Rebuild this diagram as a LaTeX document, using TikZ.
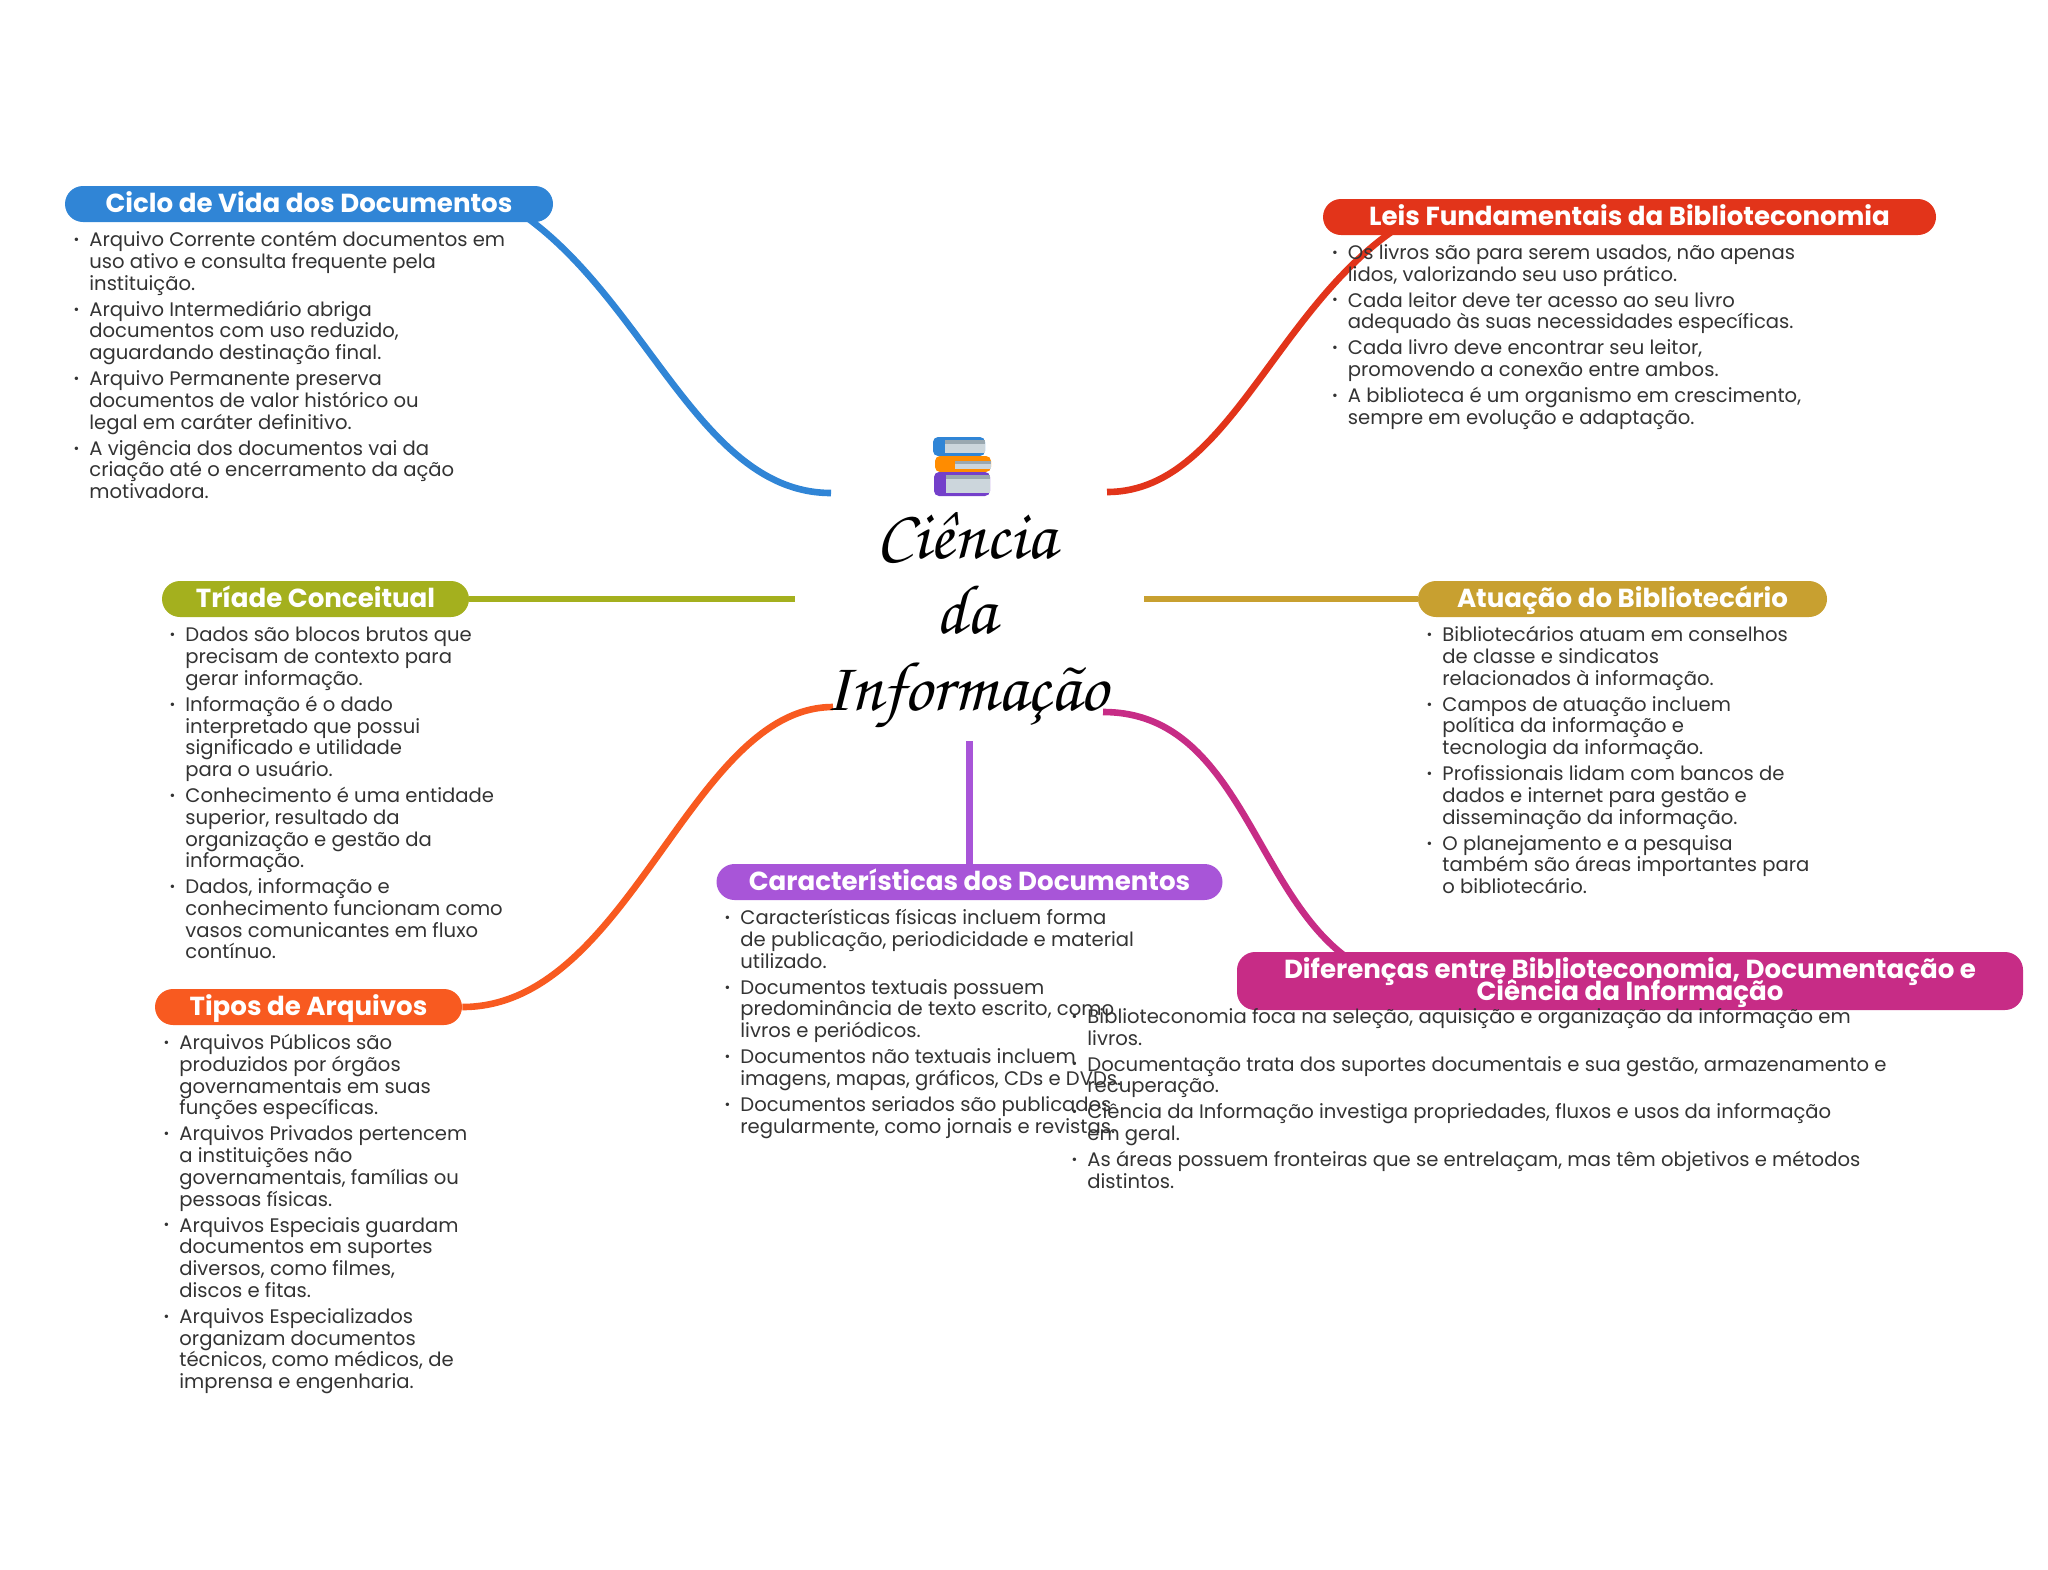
\documentclass[tikz,border=0pt]{standalone}
\usepackage{fontspec}
\usepackage{xcolor}
\setmainfont{Poppins}
\newfontfamily\titlefont{TeX Gyre Chorus}
\usetikzlibrary{backgrounds}
\definecolor{cblue}{HTML}{3085D6}
\definecolor{cred}{HTML}{E2341A}
\definecolor{colive}{HTML}{A4B01E}
\definecolor{cgold}{HTML}{C8A030}
\definecolor{corange}{HTML}{F85A20}
\definecolor{cpurple}{HTML}{A855D8}
\definecolor{cmagenta}{HTML}{C72C86}
\definecolor{cbody}{HTML}{333333}
\definecolor{cpage}{HTML}{CCD6DC}
\definecolor{cstrip}{HTML}{9AA8B0}
\newcommand{\itm}{\makebox[0pt][r]{\raisebox{1.1pt}{\fontsize{7}{7}\selectfont •}\hspace{5pt}}}
\tikzset{
  headbox/.style={rounded corners=9pt,inner sep=0pt,minimum height=18pt,text=white,align=center,
    font=\fontsize{13.05}{11}\selectfont\bfseries},
  oneline/.style={text height=10.5pt,text depth=1.8pt},
  bodybox/.style={anchor=north west,inner sep=0pt,align=left,text=cbody,
    font=\fontsize{9.8}{10.85}\selectfont},
  branch/.style={line width=3.3pt},
  titleline/.style={inner sep=0pt,anchor=base,font=\fontsize{35}{38}\selectfont\titlefont}
}
\begin{document}
\begin{tikzpicture}[x=0.5pt,y=-0.5pt]
  \useasboundingbox (0,0) rectangle (2048,1569);
  % Branch headings
  \node[headbox,oneline,fill=cblue,minimum width=244pt] (ciclo) at (309,204) {Ciclo de Vida dos Documentos};
  \node[headbox,oneline,fill=cred,minimum width=306.5pt] (leis) at (1629.5,217) {Leis Fundamentais da Biblioteconomia};
  \node[headbox,oneline,fill=colive,minimum width=153.5pt] (triade) at (315.5,599) {Tríade Conceitual};
  \node[headbox,oneline,fill=cgold,minimum width=204.5pt] (atuacao) at (1622.5,599) {Atuação do Bibliotecário};
  \node[headbox,oneline,fill=corange,minimum width=153.5pt] (tipos) at (308.5,1007) {Tipos de Arquivos};
  \node[headbox,oneline,fill=cpurple,minimum width=253pt] (carac) at (969.5,882) {Características dos Documentos};
  \node[headbox,fill=cmagenta,minimum width=393pt,minimum height=29pt] (difer) at (1630,981)
    {\rule{0pt}{12pt}Diferenças entre Biblioteconomia, Documentação e\\[-3.8pt]Ciência da Informação};
  % Central title
  \node[titleline] (t1) at (966,558) {Ciência};
  \node[titleline] (t2) at (966,633) {da};
  \node[titleline] (t3) at (966,710) {Informação};
  % Books
  \fill[cblue,rounded corners=2.5pt] (985,437) -- (933,437) -- (933,456) -- (985,456) -- cycle;
  \fill[cpage] (945,440) rectangle (985,453);
  \fill[cstrip] (945,440) rectangle (985,444);
  \fill[orange!90!yellow,rounded corners=2.5pt] (991,456) -- (935,456) -- (935,472) -- (991,472) -- cycle;
  \fill[cpage] (955,461) rectangle (991,469);
  \fill[cstrip] (955,461) rectangle (991,464);
  \fill[violet!55!blue!75,rounded corners=2.5pt] (990,472) -- (934,472) -- (934,496) -- (990,496) -- cycle;
  \fill[cpage] (946,475) rectangle (990,493);
  \fill[cstrip] (946,475) rectangle (990,479);
  % Free ends of the branches
  \coordinate (hubblue) at (831,493);
  \coordinate (hubred) at (1107,492);
  \coordinate (hubolive) at (795,599);
  \coordinate (hubgold) at (1144,599);
  \coordinate (huborange) at (833,707);
  \coordinate (hubpurple) at (969.5,741);
  \coordinate (hubmagenta) at (1103,712);
  \coordinate (endblue) at (490,195);
  \coordinate (endred) at (1440,205);
  \begin{scope}[on background layer]
    \draw[branch,cblue] (hubblue) .. controls (690,493) and (640,270) .. (endblue);
    \draw[branch,cred] (hubred) .. controls (1240,492) and (1282,270) .. (endred);
    \draw[branch,colive] (hubolive) -- (triade.east);
    \draw[branch,cgold] (hubgold) -- (atuacao.west);
    \draw[branch,corange] (huborange) .. controls (690,707) and (630,1007) .. (tipos.east);
    \draw[branch,cpurple] (hubpurple) -- (carac.north);
    \draw[branch,cmagenta] (hubmagenta) .. controls (1260,712) and (1255,952) .. (1400,981) -- (difer.center);
  \end{scope}
  % Bullet lists
  \node[bodybox] (ciclotxt) at (89,231) {\itm Arquivo Corrente contém documentos em\\uso ativo e consulta frequente pela\\instituição.\\[2.2pt]
    \itm Arquivo Intermediário abriga\\documentos com uso reduzido,\\aguardando destinação final.\\[2.2pt]
    \itm Arquivo Permanente preserva\\documentos de valor histórico ou\\legal em caráter definitivo.\\[2.2pt]
    \itm A vigência dos documentos vai da\\criação até o encerramento da ação\\motivadora.};
  \node[bodybox] (leistxt) at (1347.5,244) {\itm Os livros são para serem usados, não apenas\\lidos, valorizando seu uso prático.\\[2.2pt]
    \itm Cada leitor deve ter acesso ao seu livro\\adequado às suas necessidades específicas.\\[2.2pt]
    \itm Cada livro deve encontrar seu leitor,\\promovendo a conexão entre ambos.\\[2.2pt]
    \itm A biblioteca é um organismo em crescimento,\\sempre em evolução e adaptação.};
  \node[bodybox] (triadetxt) at (185,627) {\itm Dados são blocos brutos que\\precisam de contexto para\\gerar informação.\\[2.2pt]
    \itm Informação é o dado\\interpretado que possui\\significado e utilidade\\para o usuário.\\[2.2pt]
    \itm Conhecimento é uma entidade\\superior, resultado da\\organização e gestão da\\informação.\\[2.2pt]
    \itm Dados, informação e\\conhecimento funcionam como\\vasos comunicantes em fluxo\\contínuo.};
  \node[bodybox] (atuacaotxt) at (1442,626) {\itm Bibliotecários atuam em conselhos\\de classe e sindicatos\\relacionados à informação.\\[2.2pt]
    \itm Campos de atuação incluem\\política da informação e\\tecnologia da informação.\\[2.2pt]
    \itm Profissionais lidam com bancos de\\dados e internet para gestão e\\disseminação da informação.\\[2.2pt]
    \itm O planejamento e a pesquisa\\também são áreas importantes para\\o bibliotecário.};
  \node[bodybox] (tipostxt) at (179,1034) {\itm Arquivos Públicos são\\produzidos por órgãos\\governamentais em suas\\funções específicas.\\[2.2pt]
    \itm Arquivos Privados pertencem\\a instituições não\\governamentais, famílias ou\\pessoas físicas.\\[2.2pt]
    \itm Arquivos Especiais guardam\\documentos em suportes\\diversos, como filmes,\\discos e fitas.\\[2.2pt]
    \itm Arquivos Especializados\\organizam documentos\\técnicos, como médicos, de\\imprensa e engenharia.};
  \node[bodybox] (caractxt) at (740,909) {\itm Características físicas incluem forma\\de publicação, periodicidade e material\\utilizado.\\[2.2pt]
    \itm Documentos textuais possuem\\predominância de texto escrito, como\\livros e periódicos.\\[2.2pt]
    \itm Documentos não textuais incluem\\imagens, mapas, gráficos, CDs e DVDs.\\[2.2pt]
    \itm Documentos seriados são publicados\\regularmente, como jornais e revistas.};
  \node[bodybox] (difertxt) at (1087,1008) {\itm Biblioteconomia foca na seleção, aquisição e organização da informação em\\livros.\\[2.2pt]
    \itm Documentação trata dos suportes documentais e sua gestão, armazenamento e\\recuperação.\\[2.2pt]
    \itm Ciência da Informação investiga propriedades, fluxos e usos da informação\\em geral.\\[2.2pt]
    \itm As áreas possuem fronteiras que se entrelaçam, mas têm objetivos e métodos\\distintos.};
\end{tikzpicture}
\end{document}
